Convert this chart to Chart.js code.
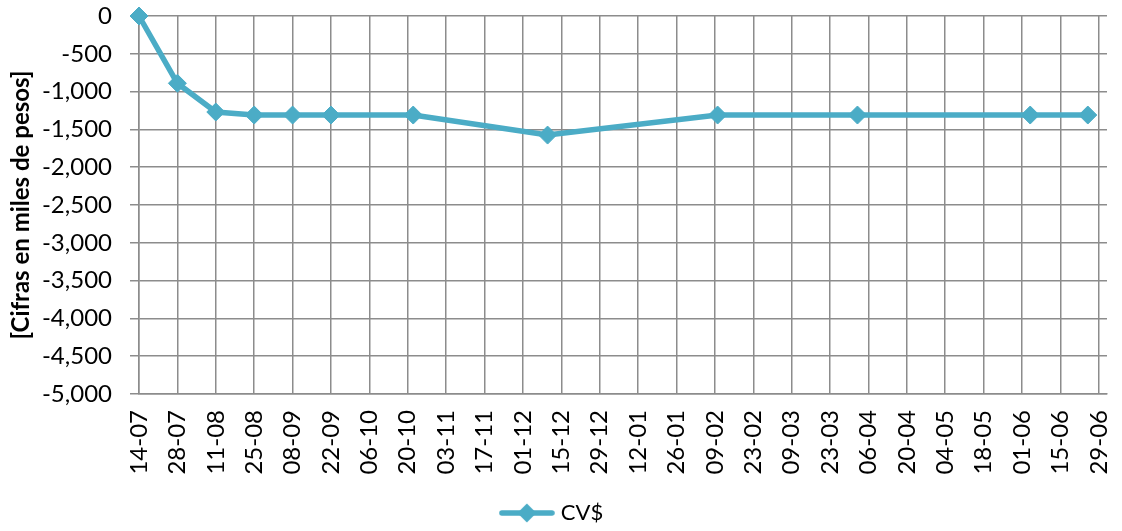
<!DOCTYPE html>
<html>
<head>
<meta charset="utf-8">
<script src="https://cdn.jsdelivr.net/npm/chart.js@4.4.1/dist/chart.umd.min.js"></script>
<style>
  html, body { margin: 0; padding: 0; background: #fff; }
  #wrap { width: 1122px; height: 531px; }
</style>
</head>
<body>
<div id="wrap"><canvas id="cvChart"></canvas></div>
<script>
// fechas de corte (dd-mm-aaaa) y saldo en miles de pesos
const fechas = ['14-07-2013', '28-07-2013', '11-08-2013', '25-08-2013', '08-09-2013', '22-09-2013',
    '22-10-2013', '10-12-2013', '10-02-2014', '02-04-2014', '04-06-2014', '25-06-2014'];
const valoresCV = [0, -890, -1270, -1310, -1310, -1310, -1310, -1575, -1310, -1310, -1310, -1310];
const nombreSerie = 'CV$';
const tituloEjeY = '[Cifras en miles de pesos]';

const DIA = 86400000;
const toUTC = (s) => {
    const p = s.split('-');
    return Date.UTC(+p[2], +p[1] - 1, +p[0]);
};
const inicio = toUTC(fechas[0]);
const dias = fechas.map(f => (toUTC(f) - inicio) / DIA);
const puntos = dias.map((d, i) => ({ x: d, y: valoresCV[i] }));

const azul = '#4BACC6';
const gris = '#8c8c8c';
const fuente = "Lato, 'Noto Sans', sans-serif";

// icono de leyenda: linea con rombo
const icono = document.createElement('canvas');
icono.width = 56;
icono.height = 22;
const ic = icono.getContext('2d');
ic.strokeStyle = azul;
ic.lineWidth = 5.5;
ic.lineCap = 'round';
ic.beginPath();
ic.moveTo(3, 11);
ic.lineTo(53, 11);
ic.stroke();
ic.fillStyle = azul;
ic.beginPath();
ic.moveTo(28, 1.5);
ic.lineTo(37.5, 11);
ic.lineTo(28, 20.5);
ic.lineTo(18.5, 11);
ic.closePath();
ic.fill();

const fmtFecha = (v) => {
    const d = new Date(inicio + v * DIA);
    const dd = String(d.getUTCDate()).padStart(2, '0');
    const mm = String(d.getUTCMonth() + 1).padStart(2, '0');
    return dd + '-' + mm;
};

const chartCV = new Chart(
    document.getElementById('cvChart'),
    {
        type: 'line',
        data: {
            datasets: [{
                label: nombreSerie,
                data: puntos,
                borderColor: azul,
                backgroundColor: azul,
                borderWidth: 5.5,
                pointStyle: 'rectRot',
                pointRadius: 9,
                pointHoverRadius: 9,
                pointBackgroundColor: azul,
                pointBorderColor: azul,
                pointBorderWidth: 1,
                tension: 0,
                clip: false,
            }]
        },
        options: {
            responsive: true,
            maintainAspectRatio: false,
            animation: false,
            layout: {
                padding: { left: 0, top: 16, right: 15, bottom: 0 }
            },
            plugins: {
                tooltip: { enabled: false },
                legend: {
                    position: 'bottom',
                    maxHeight: 29,
                    labels: {
                        usePointStyle: true,
                        pointStyle: icono,
                        pointStyleWidth: 46,
                        color: '#000',
                        padding: 0,
                        font: { family: fuente, size: 22 },
                    }
                }
            },
            scales: {
                x: {
                    type: 'linear',
                    min: 0,
                    max: 353,
                    afterFit: (s) => {
                        const lh = s.chart.legend ? s.chart.legend.height : 29;
                        s.height = s.chart.height - lh - 394;
                        s.paddingLeft = 0;
                        s.paddingRight = 0;
                    },
                    grid: {
                        color: gris,
                        lineWidth: 1.5,
                        drawTicks: false,
                    },
                    border: { color: gris, width: 1.5 },
                    ticks: {
                        stepSize: 14,
                        includeBounds: false,
                        autoSkip: false,
                        minRotation: 90,
                        maxRotation: 90,
                        padding: 16,
                        color: '#000',
                        font: { family: fuente, size: 24 },
                        callback: (v) => fmtFecha(v),
                    }
                },
                y: {
                    min: -5000,
                    max: 0,
                    afterFit: (s) => {
                        s.width = 139;
                        s.paddingTop = 0;
                        s.paddingBottom = 0;
                    },
                    grid: {
                        color: gris,
                        lineWidth: 1.5,
                        tickLength: 9,
                    },
                    border: { color: gris, width: 1.5 },
                    ticks: {
                        stepSize: 500,
                        padding: 18,
                        color: '#000',
                        font: { family: fuente, size: 24 },
                        callback: (v) => v.toLocaleString('en-US'),
                    },
                    title: {
                        display: true,
                        text: tituloEjeY,
                        color: '#000',
                        padding: { top: 7, bottom: 0 },
                        font: { family: fuente, size: 24, weight: 'bold' },
                    }
                }
            }
        }
    }
);
</script>
</body>
</html>
